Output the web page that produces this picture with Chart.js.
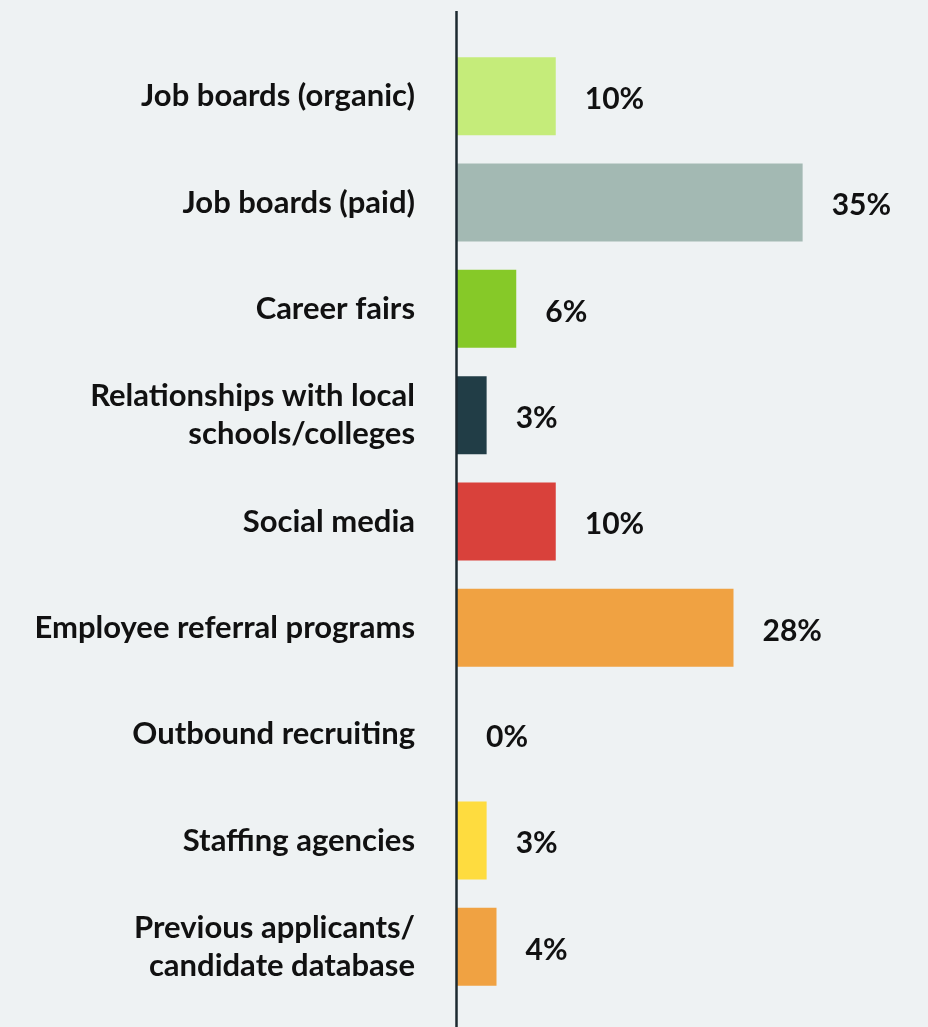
<!DOCTYPE html>
<html>
<head>
<meta charset="utf-8">
<script src="https://cdn.jsdelivr.net/npm/chart.js@4.4.1/dist/chart.umd.min.js"></script>
<style>
  html, body { margin: 0; padding: 0; background: #eef2f3; }
  #wrap { width: 928px; height: 1027px; position: relative; }
</style>
</head>
<body>
<div id="wrap"><canvas id="c" width="928" height="1027"></canvas></div>
<script>
// Recruiting channels and the share of hires each one brought in
const categories = [
  'Job boards (organic)',
  'Job boards (paid)',
  'Career fairs',
  ['Relationships with local', 'schools/colleges'],
  'Social media',
  'Employee referral programs',
  'Outbound recruiting',
  'Staffing agencies',
  ['Previous applicants/', 'candidate database']
];
const shares = [10, 35, 6, 3, 10, 28, 0, 3, 4];
const barColors = [
  '#c5ec7a', '#a3b9b3', '#86c928', '#213d46', '#d9413b',
  '#f0a242', '#f0a242', '#fedc3f', '#f0a242'
];

const FONT = 'Lato, "Noto Sans", sans-serif';

// Value labels to the right of each bar
const valueLabels = {
  id: 'valueLabels',
  afterDatasetsDraw(chart) {
    const ctx = chart.ctx;
    const meta = chart.getDatasetMeta(0);
    ctx.save();
    ctx.font = 'bold 30px ' + FONT;
    ctx.fillStyle = '#111111';
    ctx.textAlign = 'left';
    ctx.textBaseline = 'middle';
    meta.data.forEach((bar, i) => {
      ctx.fillText(shares[i] + '%', bar.x + 29, bar.y + 3);
    });
    ctx.restore();
  }
};

// Dark baseline running the full height at zero
const baseline = {
  id: 'baseline',
  afterDatasetsDraw(chart) {
    const ctx = chart.ctx;
    const x = chart.scales.x.getPixelForValue(0);
    ctx.save();
    ctx.strokeStyle = '#1c2a30';
    ctx.lineWidth = 2.5;
    ctx.beginPath();
    ctx.moveTo(x - 0.5, 11);
    ctx.lineTo(x - 0.5, chart.height);
    ctx.stroke();
    ctx.restore();
  }
};

new Chart(document.getElementById('c'), {
  type: 'bar',
  data: {
    labels: categories,
    datasets: [{
      data: shares,
      backgroundColor: barColors,
      borderWidth: 0,
      categoryPercentage: 1,
      barPercentage: 0.733
    }]
  },
  options: {
    indexAxis: 'y',
    responsive: false,
    animation: false,
    devicePixelRatio: 1,
    layout: { padding: { top: 43, bottom: 27, right: 76, left: 0 } },
    plugins: { legend: { display: false }, tooltip: { enabled: false } },
    scales: {
      x: {
        min: 0, max: 40,
        display: false,
        grid: { display: false }
      },
      y: {
        grid: { display: false, drawTicks: false },
        border: { display: false },
        afterFit(scale) {
          scale.width = 457;
          scale.paddingTop = 0;
          scale.paddingBottom = 0;
        },
        ticks: {
          color: '#111111',
          padding: 42,
          font: { family: FONT, size: 31, weight: 'bold', lineHeight: 1.22 }
        }
      }
    }
  },
  plugins: [valueLabels, baseline]
});
</script>
</body>
</html>
